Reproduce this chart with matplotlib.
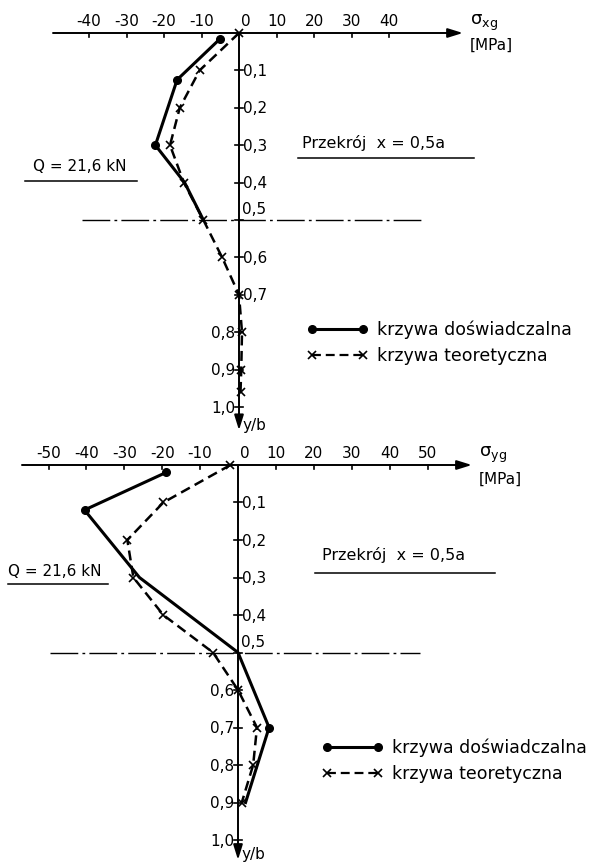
import matplotlib
matplotlib.use("Agg")
import matplotlib.pyplot as plt
from matplotlib.lines import Line2D

W, H = 597, 863

# sigma_xg [MPa] along y/b, section x = 0.5a
yb_exp_x = [0.015, 0.125, 0.30, 0.40, 0.50]
sx_exp = [-5.0, -16.5, -22.3, -14.5, -9.5]
yb_teo_x = [0.0, 0.1, 0.2, 0.3, 0.4, 0.5, 0.6, 0.7, 0.8, 0.9, 0.96]
sx_teo = [0.0, -10.5, -15.8, -18.4, -14.7, -9.5, -4.5, 0.0, 0.8, 0.6, 0.4]

# sigma_yg [MPa] along y/b, section x = 0.5a
yb_exp_y = [0.02, 0.12, 0.30, 0.50, 0.70, 0.90]
sy_exp = [-19.0, -40.5, -26.0, 0.0, 8.2, 2.0]
yb_teo_y = [0.0, 0.1, 0.2, 0.3, 0.4, 0.5, 0.6, 0.7, 0.8, 0.9]
sy_teo = [-2.0, -19.7, -29.2, -27.6, -19.7, -6.6, 0.0, 5.0, 4.0, 1.0]

xticks_top = [-40, -30, -20, -10, 0, 10, 20, 30, 40]
xticks_bot = [-50, -40, -30, -20, -10, 0, 10, 20, 30, 40, 50]
yticks = [0.1, 0.2, 0.3, 0.4, 0.5, 0.6, 0.7, 0.8, 0.9, 1.0]

lab_exp = "krzywa doświadczalna"
lab_teo = "krzywa teoretyczna"

plt.rcParams['font.family'] = ['DejaVu Sans']
FS = 11

fig = plt.figure(figsize=(W / 100, H / 100), dpi=100)


def panel(top_px, bot_px, x0_px, sx, y0_px, sy):
    # axes spanning the full width, scaled so that 1 MPa = sx px and y/b=1 -> sy px
    ax = fig.add_axes([0, 1 - bot_px / H, 1, (bot_px - top_px) / H])
    ax.set_xlim(-x0_px / sx, (W - x0_px) / sx)
    ax.set_ylim((bot_px - y0_px) / sy, (top_px - y0_px) / sy)
    ax.axis('off')
    return ax


def axes_lines(ax, xticks, x_from, x_to, y_to, n_right, tick_dx):
    arr = dict(arrowstyle='-|>,head_length=0.9,head_width=0.28', lw=1.4,
               color='k', shrinkA=0, shrinkB=0)
    ax.annotate('', xy=(x_to, 0), xytext=(x_from, 0), arrowprops=arr)
    ax.annotate('', xy=(0, y_to), xytext=(0, 0), arrowprops=arr)
    for t in xticks:
        if t != 0:
            ax.plot([t, t], [0, 0.012], color='k', lw=1.2)
            ax.annotate(str(t), (t, 0), xytext=(0, 4), textcoords='offset pixels',
                        ha='center', va='bottom', fontsize=FS)
        else:
            ax.annotate('0', (0, 0), xytext=(2, 4), textcoords='offset pixels',
                        ha='left', va='bottom', fontsize=FS)
    for i, v in enumerate(yticks):
        ax.plot([-tick_dx, tick_dx], [v, v], color='k', lw=1.2)
        s = f"{v:.1f}".replace('.', ',')
        if abs(v - 0.5) < 1e-9:
            ax.annotate(s, (0, v), xytext=(3, 3), textcoords='offset pixels',
                        ha='left', va='bottom', fontsize=FS)
        elif i < n_right:
            ax.annotate(s, (0, v), xytext=(4, -1), textcoords='offset pixels',
                        ha='left', va='center', fontsize=FS)
        else:
            ax.annotate(s, (0, v), xytext=(-4, -1), textcoords='offset pixels',
                        ha='right', va='center', fontsize=FS)
    ax.annotate('y/b', (0, y_to), xytext=(3, 5), textcoords='offset pixels',
                ha='left', va='center', fontsize=FS)


def curves(ax, yb_e, s_e, yb_t, s_t, dots):
    ax.plot(s_e, yb_e, color='k', lw=2.2, marker='o', ms=5.5, markevery=dots, zorder=4)
    ax.plot(s_t, yb_t, color='k', lw=1.8, ls=(0, (4, 2.2)), marker='x', ms=5.5,
            mew=1.2, zorder=3)


def legend(ax, x_px, y_px):
    h = [Line2D([], [], color='k', lw=2.2, marker='o', ms=5.5),
         Line2D([], [], color='k', lw=1.6, ls=(0, (4, 2.2)), marker='x', ms=5.5, mew=1.2)]
    ax.legend(h, [lab_exp, lab_teo], loc='center left', frameon=False,
              bbox_to_anchor=(x_px / W, 1 - y_px / H), bbox_transform=fig.transFigure,
              numpoints=2, handlelength=3.5, handletextpad=0.55, labelspacing=0.45,
              borderpad=0, borderaxespad=0, fontsize=12.5)


def note(x_px, y_px, text, ul_from, ul_to, ul_y, fs):
    fig.text(x_px / W, 1 - y_px / H, text, fontsize=fs, ha='left', va='center')
    fig.add_artist(Line2D([ul_from / W, ul_to / W], [1 - ul_y / H, 1 - ul_y / H],
                          color='k', lw=1.1))


# --- sigma_xg ---
ax1 = panel(0, 440, 239, 3.75, 33, 374)
axes_lines(ax1, xticks_top, -49.6, 59.7, 1.062, 7, 1.1)
ax1.plot([-41.9, 49.6], [0.5, 0.5], color='k', lw=1.0, ls=(0, (20, 3, 2, 3)))
curves(ax1, yb_exp_x, sx_exp, yb_teo_x, sx_teo, [0, 1, 2])
legend(ax1, 307, 343)
fig.text(470 / W, 1 - 23 / H, r'$\mathregular{\sigma_{xg}}$', fontsize=FS + 2, va='center')
fig.text(470 / W, 1 - 45 / H, '[MPa]', fontsize=FS, va='center')
note(302, 143, 'Przekrój  x = 0,5a', 298, 474, 158, FS + 0.5)
note(33, 166, 'Q = 21,6 kN', 25, 137, 181, FS)

# --- sigma_yg ---
ax2 = panel(440, 863, 238, 3.79, 465, 375)
axes_lines(ax2, xticks_bot, -57.0, 61.7, 1.053, 5, 1.1)
ax2.plot([-49.5, 48.0], [0.5, 0.5], color='k', lw=1.0, ls=(0, (20, 3, 2, 3)))
curves(ax2, yb_exp_y, sy_exp, yb_teo_y, sy_teo, [0, 1, 4])
legend(ax2, 322, 761)
fig.text(479 / W, 1 - 455 / H, r'$\mathregular{\sigma_{yg}}$', fontsize=FS + 2, va='center')
fig.text(479 / W, 1 - 479 / H, '[MPa]', fontsize=FS, va='center')
note(322, 555, 'Przekrój  x = 0,5a', 315, 495, 573, FS + 0.5)
note(8, 571, 'Q = 21,6 kN', 8, 108, 584, FS)

fig.savefig('out.png', dpi=100)
